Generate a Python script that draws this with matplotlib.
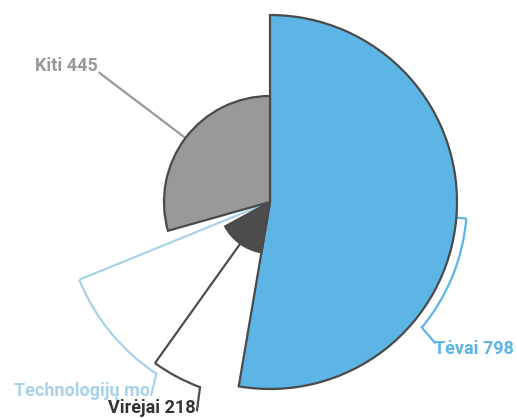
import numpy as np
import matplotlib.pyplot as plt
from matplotlib.patches import Wedge, Arc

# === DATA ===
labels = ["Tėvai", "Virėjai", "Technologijų mokytojai", "Kiti"]
values = [798, 218, 54, 445]
zvals = [187, 51, 6, 106]          # variable radius measure
shown = ["Tėvai 798", "Virėjai 218", "Technologijų mo", "Kiti 445"]

# === STYLE / LAYOUT ===
colors = ["#5db5e5", "#4d4d4d", "#a9d2e9", "#999999"]
label_colors = ["#5db5e5", "#333333", "#a9d2e9", "#999999"]
W, H = 517, 418
cx, cy = 270, H - 202
r_max = 187
# connector radius, arc end angle (math deg, None = straight), label end offset
conn = [
    dict(rc=197, end=-39.6, tail=(13, -15), ha="left", off=(-1, -6)),
    dict(rc=198, end=-110.7, tail=(-3, -23), ha="right", off=(-1, 2)),
    dict(rc=206, end=-123.5, tail=(-5, -21), ha="right", off=(-1, 4)),
    dict(rc=215, end=None, tail=(0, 0), ha="right", off=(-1, 6)),
]

fig = plt.figure(figsize=(W / 100, H / 100), dpi=100)
ax = fig.add_axes([0, 0, 1, 1])
ax.set_xlim(0, W)
ax.set_ylim(0, H)
ax.set_aspect("equal")
ax.axis("off")

total = sum(values)
zmax = max(zvals)
start = 90.0
for i, v in enumerate(values):
    span = v / total * 360
    t1, t2 = start - span, start
    r = r_max * zvals[i] / zmax
    ax.add_patch(Wedge((cx, cy), r, t1, t2, facecolor=colors[i],
                       edgecolor="#4a4a4a", linewidth=1.6, zorder=2))
    mid = np.radians((t1 + t2) / 2)
    c = conn[i]
    # radial part of the connector
    x0, y0 = cx + r * np.cos(mid), cy + r * np.sin(mid)
    x1, y1 = cx + c["rc"] * np.cos(mid), cy + c["rc"] * np.sin(mid)
    ax.plot([x0, x1], [y0, y1], color=colors[i], lw=1.6, zorder=1,
            solid_capstyle="butt")
    ex, ey = x1, y1
    if c["end"] is not None:
        a0 = np.degrees(mid)
        a1 = c["end"]
        ax.add_patch(Arc((cx, cy), 2 * c["rc"], 2 * c["rc"],
                         theta1=min(a0, a1), theta2=max(a0, a1),
                         color=colors[i], lw=1.6, zorder=1))
        ex = cx + c["rc"] * np.cos(np.radians(a1))
        ey = cy + c["rc"] * np.sin(np.radians(a1))
        tx, ty = ex + c["tail"][0], ey + c["tail"][1]
        ax.plot([ex, tx], [ey, ty], color=colors[i], lw=1.6, zorder=1)
        ex, ey = tx, ty
    ax.text(ex + c["off"][0], ey + c["off"][1], shown[i], ha=c["ha"],
            va="center", fontsize=13, fontweight="bold", family="Roboto",
            color=label_colors[i], zorder=3)
    start = t1

fig.savefig("out.png", dpi=100)
